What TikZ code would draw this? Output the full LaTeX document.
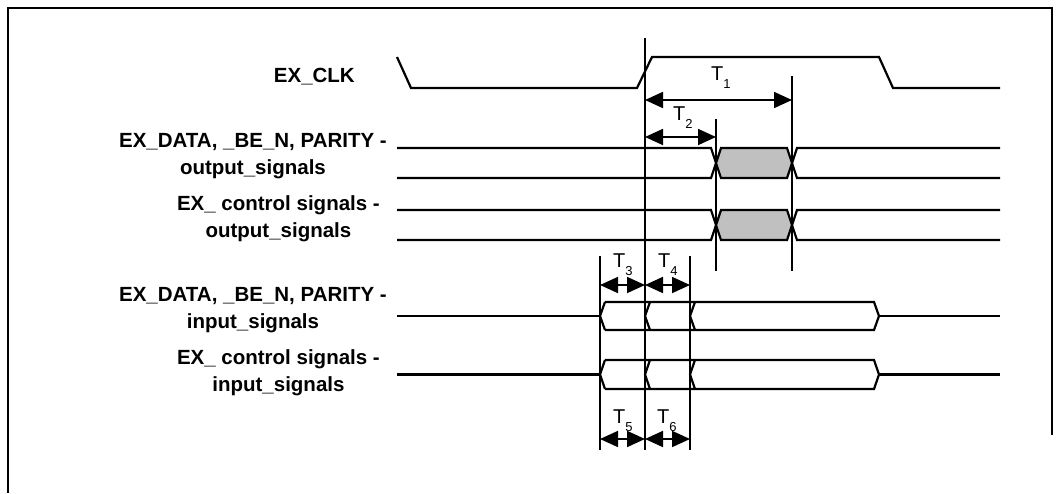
\documentclass[tikz,border=0pt]{standalone}
\usepackage{fontspec}
\setmainfont{Liberation Sans}
\usetikzlibrary{arrows.meta}
\definecolor{busgray}{RGB}{192,192,192}
\newcommand{\tsub}[1]{T\raisebox{-8pt}{\fontsize{13}{13}\selectfont #1}}

\begin{document}
\begin{tikzpicture}[
  x=1pt, y=-1pt,
  sig/.style  ={line width=2.2pt, line join=miter},
  edge/.style ={line width=1.8pt},
  dim/.style  ={{Triangle[length=18pt,width=16pt]}-{Triangle[length=18pt,width=16pt]},
                line width=1.8pt},
  lbl/.style  ={anchor=east, inner sep=0pt, align=center,
                font=\fontsize{20.5}{27}\selectfont\bfseries},
  tlbl/.style ={anchor=base west, inner sep=0pt,
                font=\fontsize{20}{20}\selectfont}
]
\useasboundingbox (0,0) rectangle (1061,493);
\draw[line width=2.4pt] (8,493) -- (8,8) -- (1052,8) -- (1052,435);

% signal names
\node[lbl] (clk)   at (355,77)    {EX\_CLK};
\node[lbl] (dout)  at (387,156.5) {EX\_DATA, \_BE\_N, PARITY -\\ output\_signals};
\node[lbl] (cout)  at (380,219)   {EX\_ control signals -\\ output\_signals};
\node[lbl] (din)   at (387,310)   {EX\_DATA, \_BE\_N, PARITY -\\ input\_signals};
\node[lbl] (cin)   at (380,372.5) {EX\_ control signals -\\ input\_signals};

% clock
\draw[sig] (397,57) -- (411,88) -- (637,88) -- (652,57) -- (879,57) -- (893,88) -- (1000,88);

% output buses
\foreach \yt/\yb in {148/178,210/240}{
  \pgfmathsetmacro\ym{(\yt+\yb)/2}
  \draw[sig] (397,\yt) -- (711,\yt) -- (716,\ym) -- (711,\yb) -- (397,\yb);
  \filldraw[sig, fill=busgray] (721,\yt) -- (787,\yt) -- (792,\ym) -- (787,\yb)
    -- (721,\yb) -- (716,\ym) -- cycle;
  \draw[sig] (1000,\yt) -- (797,\yt) -- (792,\ym) -- (797,\yb) -- (1000,\yb);
}

% input buses
\foreach \yt/\yb in {302/330,360/389}{
  \pgfmathsetmacro\ym{(\yt+\yb)/2}
  \draw[sig] (397,\ym) -- (600,\ym);
  \draw[sig] (605,\yt) -- (874,\yt) -- (879,\ym) -- (874,\yb) -- (605,\yb);
  \foreach \xe in {600,645,690}
    \draw[sig] ({\xe+5},\yt) -- (\xe,\ym) -- ({\xe+5},\yb);
  \draw[sig] (879,\ym) -- (1000,\ym);
}

% timing edges
\draw[edge] (645,38)  -- (645,450);
\draw[edge] (716,119) -- (716,271);
\draw[edge] (792,76)  -- (792,271);
\draw[edge] (600,256) -- (600,450);
\draw[edge] (690,256) -- (690,450);

% intervals
\draw[dim] (645,100) -- (792,100);
\draw[dim] (645,137) -- (716,137);
\draw[dim] (600,285) -- (645,285);
\draw[dim] (645,285) -- (690,285);
\draw[dim] (600,439) -- (645,439);
\draw[dim] (645,439) -- (690,439);

\node[tlbl] (t1) at (711,80)  {\tsub{1}};
\node[tlbl] (t2) at (673,120) {\tsub{2}};
\node[tlbl] (t3) at (613,267) {\tsub{3}};
\node[tlbl] (t4) at (658,267) {\tsub{4}};
\node[tlbl] (t5) at (613,423) {\tsub{5}};
\node[tlbl] (t6) at (657,423) {\tsub{6}};
\end{tikzpicture}
\end{document}
